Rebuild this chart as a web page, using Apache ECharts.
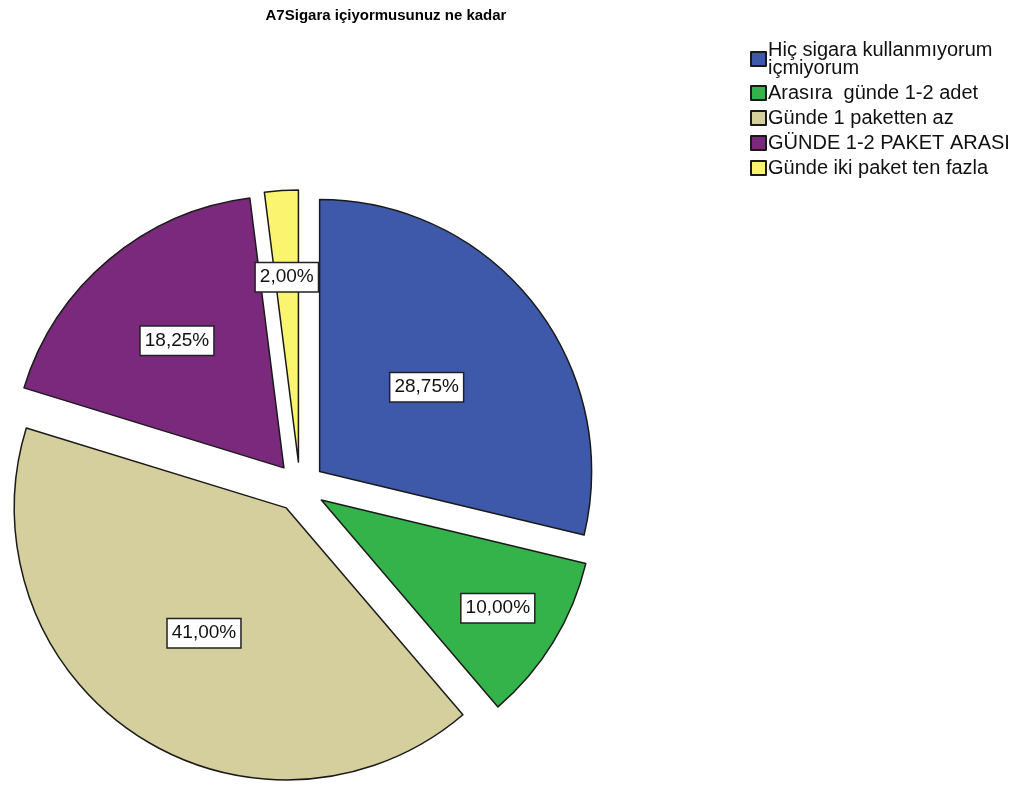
<!DOCTYPE html>
<html>
<head>
<meta charset="utf-8">
<script src="https://cdn.jsdelivr.net/npm/echarts@6/dist/echarts.min.js"></script>
<style>
  html, body { margin: 0; padding: 0; background: #fff; }
  #chart { width: 1026px; height: 785px; }
</style>
</head>
<body>
<div id="chart"></div>
<script>
// kategoriler ve yüzdeler
var categories = [
  'Hiç sigara kullanmıyorum içmiyorum',
  'Arasıra  günde 1-2 adet',
  'Günde 1 paketten az',
  'GÜNDE 1-2 PAKET ARASI',
  'Günde iki paket ten fazla'
];
var percents = [28.75, 10.00, 41.00, 18.25, 2.00];
var colors = ['#3e58aa', '#33b34a', '#d4cf9c', '#7a297c', '#faf46e'];
// etiketin dilim içindeki yarıçap oranı (SPSS dar dilimlerde dışarı iter)
var labelRadius = [0.49, 0.75, 0.54, 0.60, 0.67];

var cx = 300, cy = 487, R = 272, explode = 25;

var chart = echarts.init(document.getElementById('chart'));

var pieData = categories.map(function (name, i) {
  return {
    name: name,
    value: percents[i],
    selected: true,
    itemStyle: { color: colors[i] }
  };
});

var option = {
  animation: false,
  title: {
    text: 'A7Sigara içiyormusunuz ne kadar',
    left: 381,
    textAlign: 'center',
    top: 3,
    textStyle: { fontFamily: 'Liberation Sans, Arial', fontSize: 15, fontWeight: 'bold', color: '#000' }
  },
  legend: {
    orient: 'vertical',
    left: 745,
    top: 35,
    icon: 'rect',
    itemWidth: 15,
    itemHeight: 14,
    itemGap: 5,
    selectedMode: false,
    formatter: function (name) {
      return name.replace('kullanmıyorum ', 'kullanmıyorum\n');
    },
    textStyle: { fontFamily: 'Liberation Sans, Arial', fontSize: 20, lineHeight: 18, color: '#111', padding: [0, 0, 0, -3] }
  },
  series: [{
    type: 'pie',
    center: [cx, cy],
    radius: R,
    startAngle: 90,
    clockwise: true,
    selectedMode: 'multiple',
    selectedOffset: explode,
    avoidLabelOverlap: false,
    emphasis: { disabled: true },
    itemStyle: { borderColor: '#1a1a1a', borderWidth: 1.5 },
    label: {
      show: true,
      position: 'inside',
      formatter: function (p) {
        return p.value.toFixed(2).replace('.', ',') + '%';
      },
      fontFamily: 'Liberation Sans, Arial',
      fontSize: 19,
      color: '#111',
      backgroundColor: '#fff',
      borderColor: '#222',
      borderWidth: 1.5,
      padding: [5, 4, 4, 4]
    },
    labelLine: { show: false },
    labelLayout: function (params) {
      var r = params.labelRect;
      var lx = r.x + r.width / 2, ly = r.y + r.height / 2;
      var vx = lx - cx, vy = ly - cy;
      var len = Math.sqrt(vx * vx + vy * vy) || 1;
      var shift = (labelRadius[params.dataIndex] - 0.5) * R;
      return { dx: vx / len * shift, dy: vy / len * shift };
    },
    data: pieData
  }]
};

chart.setOption(option);
</script>
</body>
</html>
